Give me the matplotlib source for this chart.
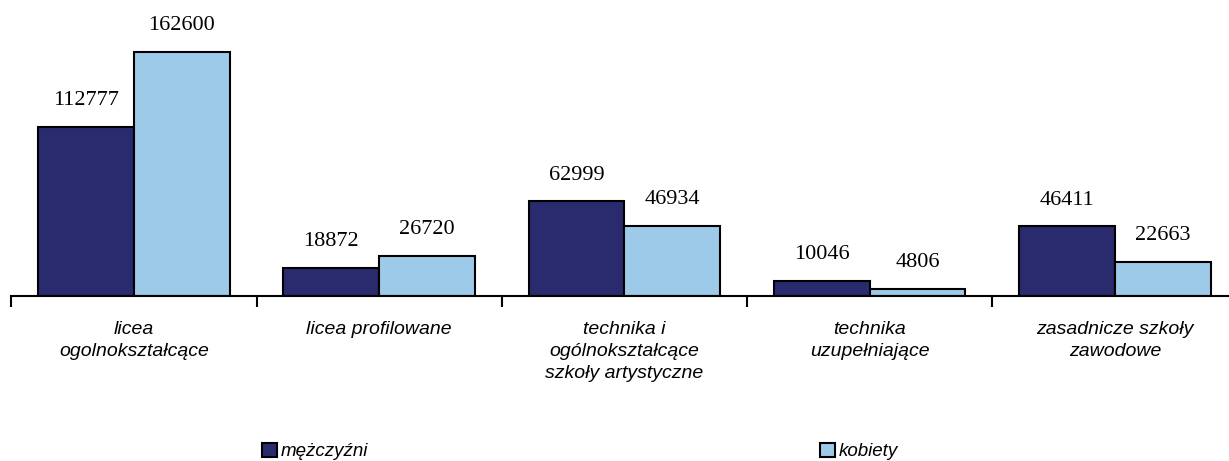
import numpy as np
import matplotlib.pyplot as plt

categories = ['licea\nogolnokształcące', 'licea profilowane',
              'technika i\nogólnokształcące\nszkoły artystyczne',
              'technika\nuzupełniające', 'zasadnicze szkoły\nzawodowe']
men = [112777, 18872, 62999, 10046, 46411]
women = [162600, 26720, 46934, 4806, 22663]
series_names = ['mężczyźni', 'kobiety']

c_men = '#2a2a6e'
c_women = '#9ecae9'

fig = plt.figure(figsize=(12.29, 4.61), dpi=100)
# plot area runs a little past the right edge, like in the source picture
ax = fig.add_axes([11.4 / 1229, (461 - 296) / 461, 1226 / 1229, 286 / 461])

x = np.arange(len(categories))
w = 0.391
b1 = ax.bar(x - w / 2, men, w, color=c_men, edgecolor='black', linewidth=1.5, label=series_names[0])
b2 = ax.bar(x + w / 2, women, w, color=c_women, edgecolor='black', linewidth=1.5, label=series_names[1])

for bars in (b1, b2):
    for r in bars:
        ax.annotate(str(int(r.get_height())), (r.get_x() + r.get_width() / 2, r.get_height()),
                    xytext=(0, 12), textcoords='offset points', ha='center', va='bottom',
                    fontsize=16, family='Liberation Serif')

ax.set_xlim(-0.5, len(categories) - 0.5)
ax.set_ylim(0, 162600 * 286 / 244)

for s in ['top', 'right', 'left']:
    ax.spines[s].set_visible(False)
ax.spines['bottom'].set_linewidth(1.5)
ax.set_yticks([])

ax.set_xticks(x)
ax.set_xticklabels(categories, fontsize=14, style='italic', family='Liberation Sans',
                   linespacing=1.4)
ax.tick_params(axis='x', which='major', length=0, pad=18)
ax.set_xticks(np.arange(len(categories) + 1) - 0.5, minor=True)
ax.tick_params(axis='x', which='minor', length=8, width=1.5, direction='out')

fig.legend(loc='center', bbox_to_anchor=(0.4717, 0.021), ncol=2, frameon=False,
           prop={'family': 'Liberation Sans', 'style': 'italic', 'size': 13.5},
           handlelength=0.78, handleheight=0.78, handletextpad=0.2, columnspacing=24.12)

fig.savefig('out.png', dpi=100)
